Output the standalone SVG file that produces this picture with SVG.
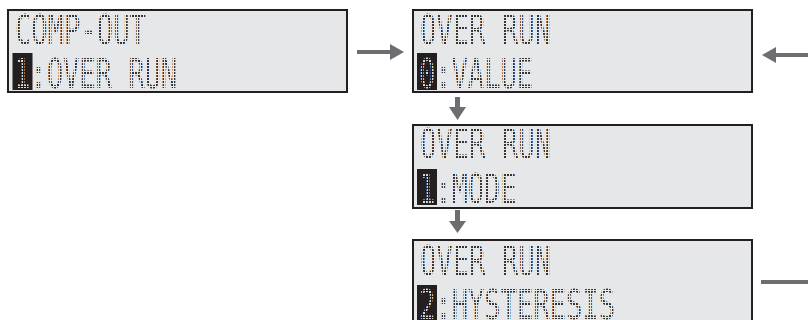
<svg xmlns="http://www.w3.org/2000/svg" width="808" height="320" viewBox="0 0 808 320">
<style>
.box{fill:#e6e7e8;stroke:#231f20;stroke-width:2}
.t{font-family:"DejaVu Sans Mono","Liberation Mono",monospace;font-size:41px;fill:url(#dots)}
.inv{fill:url(#dotsL)}
.blk{fill:#231f20}
.arr{fill:#6d6e71}
</style>
<defs>
<pattern id="dots" patternUnits="userSpaceOnUse" width="3" height="3"><rect width="2" height="2" fill="#333333"/></pattern>
<pattern id="dotsL" patternUnits="userSpaceOnUse" width="3" height="3"><rect width="2" height="2" fill="#d8d8d8"/></pattern>
</defs>
<g id="connectors">
<path class="arr" d="M357 50h33v-6l14 8-14 8v-6h-33z"/>
<path class="arr" d="M808 53h-32v-6l-14 8 14 8v-6h32z"/>
<path class="arr" d="M455 97h5v10h6l-8.5 13-8.5-13h6z"/>
<path class="arr" d="M455 210h5v11h6l-8.5 12-8.5-12h6z"/>
<rect class="arr" x="761" y="280" width="47" height="4"/>
</g>
<g id="node1">
<rect class="box" x="8" y="10" width="339" height="82"/>
<text class="t" x="15" y="44" textLength="131" lengthAdjust="spacingAndGlyphs">COMP-OUT</text>
<rect class="blk" x="12.5" y="53" width="20" height="37"/>
<text class="t" x="14" y="88" textLength="163.2" lengthAdjust="spacingAndGlyphs"><tspan class="inv">1</tspan>:OVER RUN</text>
</g>
<g id="node2">
<rect class="box" x="413" y="10" width="339" height="82"/>
<text class="t" x="420" y="44" textLength="131" lengthAdjust="spacingAndGlyphs">OVER RUN</text>
<rect class="blk" x="417" y="53" width="20" height="37"/>
<text class="t" x="419" y="88" textLength="114" lengthAdjust="spacingAndGlyphs"><tspan class="inv">0</tspan>:VALUE</text>
</g>
<g id="node3">
<rect class="box" x="413" y="125" width="339" height="83"/>
<text class="t" x="420" y="158" textLength="131" lengthAdjust="spacingAndGlyphs">OVER RUN</text>
<rect class="blk" x="417" y="169" width="20" height="36"/>
<text class="t" x="419" y="203" textLength="97.6" lengthAdjust="spacingAndGlyphs"><tspan class="inv">1</tspan>:MODE</text>
</g>
<g id="node4">
<rect class="box" x="413" y="240" width="339" height="84"/>
<text class="t" x="420" y="275" textLength="131" lengthAdjust="spacingAndGlyphs">OVER RUN</text>
<rect class="blk" x="417" y="285" width="20" height="37"/>
<text class="t" x="419" y="319" textLength="196" lengthAdjust="spacingAndGlyphs"><tspan class="inv">2</tspan>:HYSTERESIS</text>
</g>
</svg>
